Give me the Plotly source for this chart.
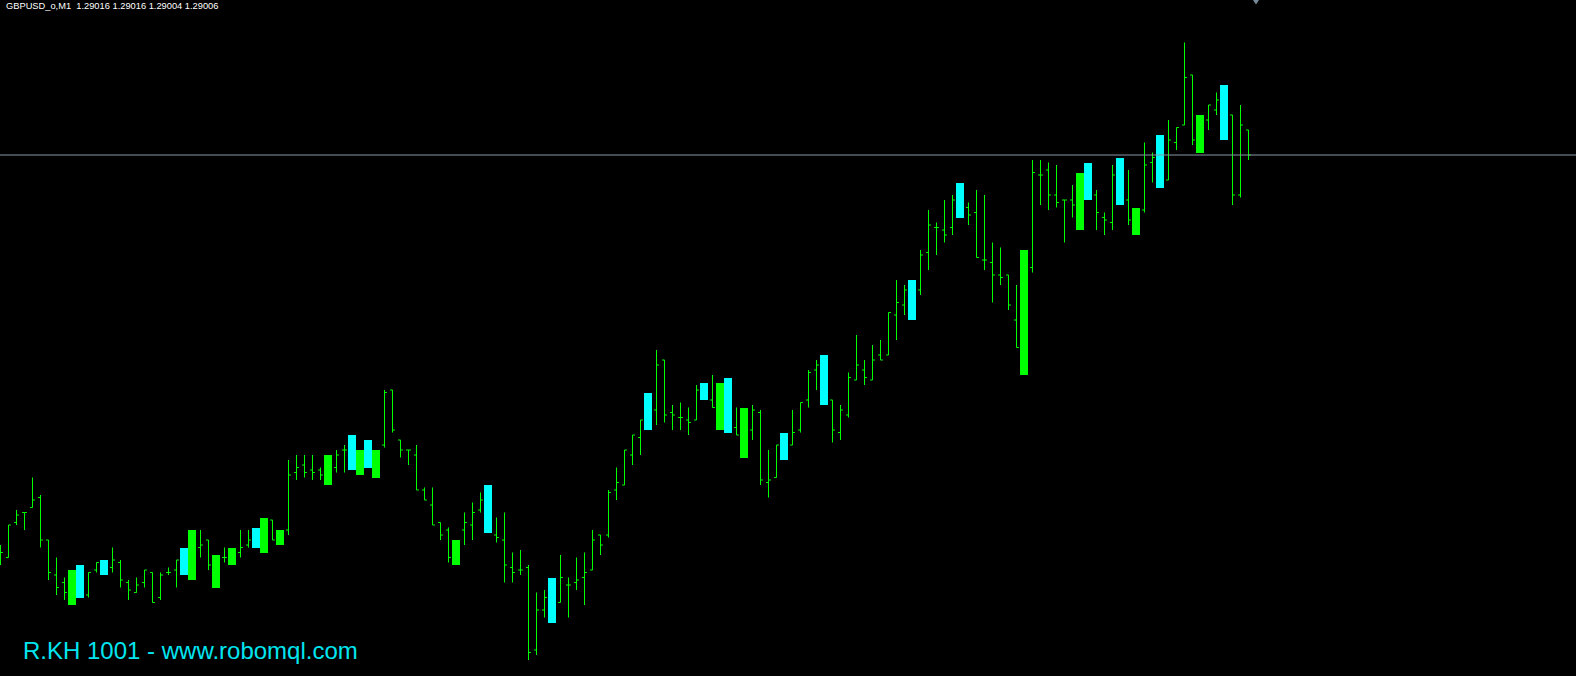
import plotly.graph_objects as go

# ---- data (GBPUSD M1), bar index 0..156 ----
open_p = [
    1.28844, 1.28845, 1.28859, 1.28863, 1.28865, 1.28869, 1.28852, 1.28838, 1.28835, 1.28840,
    1.28829, 1.28830, 1.28840, 1.28838, 1.28841, 1.28843, 1.28835, 1.28831, 1.28835, 1.28839,
    1.28829, 1.28839, 1.28840, 1.28838, 1.28856, 1.28849, 1.28852, 1.28846, 1.28845, 1.28849,
    1.28847, 1.28850, 1.28849, 1.28861, 1.28860, 1.28856, 1.28856, 1.28879, 1.28882, 1.28880,
    1.28880, 1.28886, 1.28881, 1.28888, 1.28880, 1.28888, 1.28881, 1.28888, 1.28890, 1.28912,
    1.28892, 1.28888, 1.28886, 1.28872, 1.28866, 1.28859, 1.28856, 1.28852, 1.28856, 1.28858,
    1.28864, 1.28855, 1.28854, 1.28852, 1.28841, 1.28840, 1.28841, 1.28808, 1.28824, 1.28819,
    1.28827, 1.28834, 1.28835, 1.28837, 1.28840, 1.28854, 1.28854, 1.28872, 1.28874, 1.28886,
    1.28893, 1.28896, 1.28904, 1.28924, 1.28903, 1.28901, 1.28900, 1.28900, 1.28908, 1.28908,
    1.28915, 1.28895, 1.28897, 1.28905, 1.28896, 1.28903, 1.28875, 1.28877, 1.28884, 1.28890,
    1.28896, 1.28908, 1.28920, 1.28906, 1.28908, 1.28895, 1.28902, 1.28916, 1.28920, 1.28916,
    1.28926, 1.28926, 1.28942, 1.28946, 1.28940, 1.28952, 1.28967, 1.28977, 1.28976, 1.28977,
    1.28981, 1.28985, 1.28983, 1.28964, 1.28963, 1.28958, 1.28958, 1.28940, 1.28968, 1.28961,
    1.28998, 1.29000, 1.28990, 1.28988, 1.28988, 1.28999, 1.28988, 1.28990, 1.28981, 1.28979,
    1.28986, 1.28988, 1.28985, 1.28984, 1.29003, 1.28993, 1.28996, 1.29011, 1.29018, 1.29038,
    1.29022, 1.29020, 1.29024, 1.29012, 1.29022, 1.28990, 1.29016,
]
high_p = [
    1.28850, 1.28858, 1.28864, 1.28863, 1.28877, 1.28870, 1.28852, 1.28845, 1.28837, 1.28840,
    1.28842, 1.28839, 1.28843, 1.28844, 1.28849, 1.28844, 1.28836, 1.28837, 1.28840, 1.28839,
    1.28839, 1.28841, 1.28844, 1.28849, 1.28856, 1.28856, 1.28852, 1.28846, 1.28849, 1.28849,
    1.28856, 1.28856, 1.28857, 1.28861, 1.28860, 1.28856, 1.28884, 1.28886, 1.28886, 1.28886,
    1.28881, 1.28886, 1.28888, 1.28890, 1.28894, 1.28888, 1.28892, 1.28888, 1.28912, 1.28912,
    1.28892, 1.28888, 1.28890, 1.28873, 1.28873, 1.28859, 1.28857, 1.28852, 1.28863, 1.28867,
    1.28871, 1.28874, 1.28861, 1.28863, 1.28847, 1.28848, 1.28842, 1.28831, 1.28832, 1.28837,
    1.28846, 1.28837, 1.28845, 1.28847, 1.28856, 1.28854, 1.28872, 1.28881, 1.28888, 1.28894,
    1.28900, 1.28911, 1.28928, 1.28924, 1.28906, 1.28907, 1.28905, 1.28914, 1.28915, 1.28918,
    1.28915, 1.28917, 1.28905, 1.28905, 1.28906, 1.28904, 1.28888, 1.28890, 1.28895, 1.28904,
    1.28907, 1.28920, 1.28924, 1.28926, 1.28908, 1.28906, 1.28919, 1.28934, 1.28924, 1.28930,
    1.28932, 1.28943, 1.28956, 1.28954, 1.28956, 1.28968, 1.28984, 1.28979, 1.28988, 1.28990,
    1.28995, 1.28987, 1.28992, 1.28990, 1.28971, 1.28969, 1.28958, 1.28954, 1.28968, 1.29004,
    1.29004, 1.29003, 1.29002, 1.28988, 1.28994, 1.28999, 1.29003, 1.28992, 1.28983, 1.29002,
    1.29005, 1.29000, 1.28985, 1.29011, 1.29007, 1.29014, 1.29020, 1.29017, 1.29051, 1.29038,
    1.29022, 1.29026, 1.29031, 1.29034, 1.29022, 1.29026, 1.29016,
]
low_p = [
    1.28842, 1.28845, 1.28858, 1.28856, 1.28865, 1.28849, 1.28836, 1.28830, 1.28828, 1.28826,
    1.28829, 1.28829, 1.28839, 1.28838, 1.28839, 1.28833, 1.28828, 1.28831, 1.28833, 1.28827,
    1.28828, 1.28838, 1.28833, 1.28838, 1.28836, 1.28845, 1.28840, 1.28833, 1.28843, 1.28842,
    1.28845, 1.28849, 1.28849, 1.28847, 1.28852, 1.28850, 1.28854, 1.28876, 1.28877, 1.28876,
    1.28876, 1.28874, 1.28879, 1.28879, 1.28880, 1.28878, 1.28881, 1.28877, 1.28889, 1.28895,
    1.28885, 1.28882, 1.28872, 1.28868, 1.28858, 1.28852, 1.28843, 1.28842, 1.28850, 1.28852,
    1.28863, 1.28855, 1.28851, 1.28835, 1.28835, 1.28838, 1.28804, 1.28806, 1.28821, 1.28819,
    1.28827, 1.28821, 1.28832, 1.28826, 1.28840, 1.28846, 1.28853, 1.28868, 1.28874, 1.28882,
    1.28886, 1.28896, 1.28898, 1.28899, 1.28896, 1.28896, 1.28894, 1.28900, 1.28908, 1.28905,
    1.28896, 1.28895, 1.28894, 1.28885, 1.28892, 1.28874, 1.28869, 1.28877, 1.28884, 1.28890,
    1.28895, 1.28905, 1.28912, 1.28906, 1.28891, 1.28892, 1.28901, 1.28916, 1.28914, 1.28916,
    1.28924, 1.28926, 1.28932, 1.28942, 1.28940, 1.28950, 1.28960, 1.28966, 1.28971, 1.28974,
    1.28981, 1.28978, 1.28965, 1.28960, 1.28947, 1.28954, 1.28944, 1.28929, 1.28918, 1.28959,
    1.28986, 1.28984, 1.28985, 1.28971, 1.28981, 1.28976, 1.28988, 1.28976, 1.28974, 1.28976,
    1.28986, 1.28978, 1.28974, 1.28983, 1.28995, 1.28993, 1.28996, 1.29008, 1.29018, 1.29010,
    1.29007, 1.29016, 1.29022, 1.29012, 1.28986, 1.28989, 1.29004,
]
close_p = [
    1.28847, 1.28858, 1.28862, 1.28863, 1.28868, 1.28852, 1.28839, 1.28833, 1.28831, 1.28826,
    1.28842, 1.28839, 1.28843, 1.28844, 1.28844, 1.28836, 1.28832, 1.28834, 1.28840, 1.28827,
    1.28838, 1.28839, 1.28844, 1.28849, 1.28836, 1.28850, 1.28842, 1.28833, 1.28845, 1.28842,
    1.28849, 1.28852, 1.28857, 1.28847, 1.28852, 1.28850, 1.28878, 1.28881, 1.28879, 1.28879,
    1.28878, 1.28874, 1.28886, 1.28888, 1.28894, 1.28878, 1.28892, 1.28877, 1.28911, 1.28896,
    1.28888, 1.28888, 1.28872, 1.28868, 1.28858, 1.28854, 1.28845, 1.28842, 1.28859, 1.28863,
    1.28868, 1.28874, 1.28853, 1.28842, 1.28839, 1.28840, 1.28807, 1.28824, 1.28829, 1.28837,
    1.28837, 1.28834, 1.28836, 1.28839, 1.28852, 1.28850, 1.28871, 1.28875, 1.28888, 1.28894,
    1.28900, 1.28911, 1.28922, 1.28902, 1.28902, 1.28901, 1.28899, 1.28912, 1.28915, 1.28905,
    1.28896, 1.28917, 1.28894, 1.28885, 1.28904, 1.28876, 1.28876, 1.28890, 1.28895, 1.28895,
    1.28907, 1.28919, 1.28922, 1.28926, 1.28896, 1.28904, 1.28917, 1.28922, 1.28917, 1.28924,
    1.28924, 1.28943, 1.28947, 1.28952, 1.28956, 1.28966, 1.28978, 1.28977, 1.28974, 1.28988,
    1.28995, 1.28982, 1.28965, 1.28964, 1.28958, 1.28957, 1.28946, 1.28929, 1.28918, 1.28999,
    1.28998, 1.28990, 1.28987, 1.28988, 1.28986, 1.28976, 1.29003, 1.28983, 1.28980, 1.28998,
    1.29005, 1.28980, 1.28974, 1.29002, 1.29005, 1.29014, 1.29012, 1.29017, 1.29037, 1.29012,
    1.29007, 1.29026, 1.29028, 1.29034, 1.28990, 1.29018, 1.29006,
]
# bars painted by the indicator (full high-low block)
green_bars = [9, 24, 27, 29, 33, 35, 41, 45, 47, 57, 90, 93, 128, 135, 142, 150]
cyan_bars = [10, 13, 23, 32, 44, 46, 61, 69, 81, 88, 91, 98, 103, 114, 120, 136, 140, 145, 153]

symbol_label = "GBPUSD_o,M1"
watermark = "R.KH 1001 - www.robomql.com"
bid = close_p[-1]

LIME = "#00FF00"
CYAN = "#00FFFF"

n = len(close_p)
marked = set(green_bars) | set(cyan_bars)
plain = [i for i in range(n) if i not in marked]

fig = go.Figure()
fig.add_trace(go.Ohlc(
    x=plain,
    open=[open_p[i] for i in plain],
    high=[high_p[i] for i in plain],
    low=[low_p[i] for i in plain],
    close=[close_p[i] for i in plain],
    increasing=dict(line=dict(color=LIME, width=1)),
    decreasing=dict(line=dict(color=LIME, width=1)),
    tickwidth=0.3,
    hoverinfo="skip",
    showlegend=False,
))

for idxs, col in ((green_bars, LIME), (cyan_bars, CYAN)):
    fig.add_trace(go.Bar(
        x=idxs,
        base=[low_p[i] for i in idxs],
        y=[high_p[i] - low_p[i] for i in idxs],
        width=1.0,
        offset=-0.5625,
        marker=dict(color=col, line=dict(width=0)),
        hoverinfo="skip",
        showlegend=False,
    ))

W, H = 1576, 676
px_per_bar = 8
pt_per_px = 0.000004
y_top = bid + 155 * pt_per_px
y_bot = y_top - H * pt_per_px

fig.add_shape(type="line", xref="paper", yref="y", x0=0, x1=1, y0=bid, y1=bid,
              line=dict(color="#8A97A6", width=1))
# chart shift marker
fig.add_shape(type="path", xref="x", yref="paper",
              path="M 156.56,1 L 157.31,1 L 156.94,0.9935 Z",
              fillcolor="#778899", line=dict(width=0))

header = (symbol_label + "\u00a0\u00a0" + " ".join(
    f"{v:.5f}" for v in (open_p[-1], high_p[-1], low_p[-1], close_p[-1])))
fig.add_annotation(text=header, xref="paper", yref="paper", x=4 / W, y=1 - 6.5 / H,
                   xanchor="left", yanchor="middle", showarrow=False,
                   font=dict(family="Liberation Sans, Arial", size=9.3, color="#FFFFFF"))
fig.add_annotation(text=watermark, xref="paper", yref="paper", x=21 / W, y=1 - 650 / H,
                   xanchor="left", yanchor="middle", showarrow=False,
                   font=dict(family="Liberation Sans, Arial", size=24, color="#00E5F0"))

fig.update_layout(
    width=W, height=H,
    margin=dict(l=0, r=0, t=0, b=0, pad=0),
    paper_bgcolor="#000000", plot_bgcolor="#000000",
    bargap=0, barmode="overlay",
    xaxis=dict(range=[-0.0625, W / px_per_bar - 0.0625], visible=False,
               showgrid=False, zeroline=False, rangeslider=dict(visible=False),
               fixedrange=True),
    yaxis=dict(range=[y_bot, y_top], visible=False, showgrid=False, zeroline=False,
               fixedrange=True),
    showlegend=False,
)

fig.write_html("out.html", config={"displayModeBar": False},
               post_script="document.body.style.margin='0';document.body.style.overflow='hidden';")
